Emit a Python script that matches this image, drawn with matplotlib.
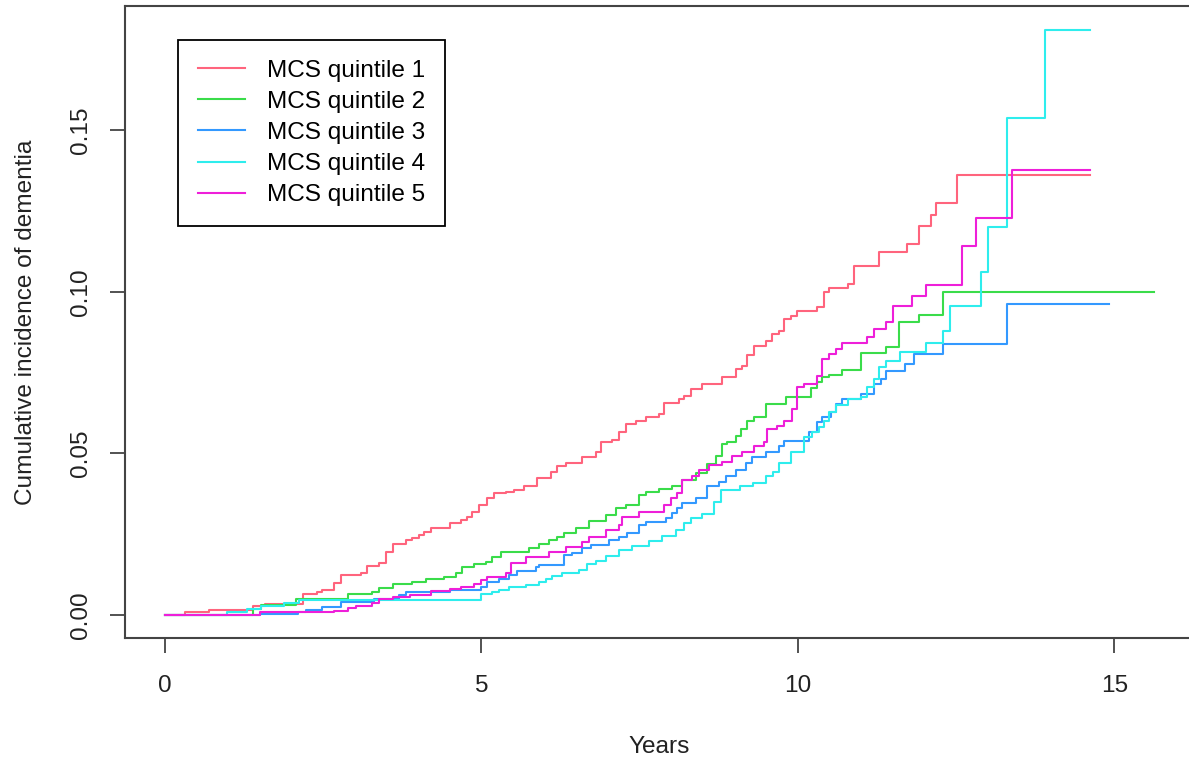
import numpy as np
import matplotlib.pyplot as plt

plt.rcParams['font.family'] = ['Liberation Sans', 'DejaVu Sans']

# step times (years) and cumulative incidence after each step
q1_t = [0.32, 0.71, 1.40, 1.59, 2.18, 2.40, 2.49, 2.68, 2.79, 3.11, 3.20, 3.39, 3.50, 3.60,
        3.82, 3.91, 4.02, 4.10, 4.21, 4.50, 4.68, 4.78, 4.86, 4.97, 5.09, 5.21, 5.39, 5.52,
        5.68, 5.88, 6.10, 6.20, 6.34, 6.59, 6.81, 6.89, 7.07, 7.18, 7.29, 7.44, 7.60, 7.81,
        7.89, 8.12, 8.20, 8.31, 8.49, 8.80, 9.02, 9.12, 9.20, 9.31, 9.50, 9.59, 9.70, 9.78,
        9.89, 9.98, 10.30, 10.41, 10.49, 10.80, 10.88, 11.28, 11.72, 11.91, 12.11, 12.19, 12.51]
q1_y = [0.0009, 0.0016, 0.0028, 0.0034, 0.0065, 0.0071, 0.0078, 0.0099, 0.0124, 0.0130, 0.0152,
        0.0161, 0.0196, 0.0220, 0.0233, 0.0239, 0.0248, 0.0258, 0.0270, 0.0286, 0.0295, 0.0304,
        0.0320, 0.0342, 0.0363, 0.0379, 0.0382, 0.0388, 0.0398, 0.0425, 0.0444, 0.0460, 0.0472,
        0.0488, 0.0506, 0.0534, 0.0543, 0.0568, 0.0590, 0.0599, 0.0612, 0.0621, 0.0655, 0.0668,
        0.0677, 0.0699, 0.0714, 0.0736, 0.0761, 0.0770, 0.0804, 0.0832, 0.0848, 0.0870, 0.0879,
        0.0916, 0.0925, 0.0941, 0.0953, 0.1000, 0.1012, 0.1025, 0.1081, 0.1124, 0.1149, 0.1205,
        0.1239, 0.1276, 0.1363]
q1_end = 14.62

q2_t = [1.40, 1.53, 2.08, 2.89, 3.28, 3.39, 3.60, 3.91, 4.13, 4.42, 4.61, 4.70, 4.89, 5.08,
        5.17, 5.32, 5.76, 5.91, 6.07, 6.20, 6.31, 6.50, 6.70, 6.97, 7.13, 7.29, 7.49, 7.60,
        7.81, 8.01, 8.17, 8.39, 8.56, 8.71, 8.80, 8.88, 9.02, 9.10, 9.20, 9.31, 9.50, 9.81,
        10.21, 10.30, 10.38, 10.49, 10.69, 10.99, 11.39, 11.59, 11.91, 12.29]
q2_y = [0.0019, 0.0031, 0.0050, 0.0065, 0.0071, 0.0084, 0.0096, 0.0102, 0.0112, 0.0118, 0.0130,
        0.0149, 0.0158, 0.0165, 0.0180, 0.0196, 0.0208, 0.0220, 0.0233, 0.0242, 0.0255, 0.0270,
        0.0292, 0.0311, 0.0332, 0.0342, 0.0373, 0.0382, 0.0391, 0.0398, 0.0419, 0.0441, 0.0466,
        0.0491, 0.0528, 0.0537, 0.0553, 0.0575, 0.0599, 0.0612, 0.0652, 0.0674, 0.0702, 0.0720,
        0.0736, 0.0742, 0.0758, 0.0811, 0.0829, 0.0907, 0.0929, 0.1000]
q2_end = 15.62

q3_t = [1.50, 2.10, 2.24, 2.49, 2.79, 3.31, 3.71, 3.82, 4.50, 5.00, 5.09, 5.28, 5.44, 5.57,
        5.87, 5.91, 6.31, 6.44, 6.59, 6.73, 7.02, 7.18, 7.30, 7.49, 7.60, 7.92, 8.01, 8.09,
        8.17, 8.39, 8.56, 8.75, 8.86, 9.02, 9.18, 9.27, 9.50, 9.70, 9.78, 10.17, 10.30, 10.38,
        10.52, 10.60, 10.69, 10.99, 11.20, 11.31, 11.39, 11.70, 11.83, 12.30, 13.30]
q3_y = [0.0003, 0.0009, 0.0016, 0.0025, 0.0040, 0.0050, 0.0062, 0.0071, 0.0078, 0.0087, 0.0102,
        0.0112, 0.0124, 0.0137, 0.0149, 0.0155, 0.0186, 0.0193, 0.0208, 0.0217, 0.0233, 0.0242,
        0.0255, 0.0280, 0.0289, 0.0301, 0.0317, 0.0332, 0.0348, 0.0363, 0.0398, 0.0413, 0.0429,
        0.0450, 0.0472, 0.0488, 0.0506, 0.0522, 0.0540, 0.0565, 0.0596, 0.0612, 0.0627, 0.0652,
        0.0668, 0.0683, 0.0714, 0.0730, 0.0755, 0.0776, 0.0807, 0.0839, 0.0963]
q3_end = 14.91

q4_t = [0.99, 1.31, 1.53, 1.89, 2.13, 5.00, 5.17, 5.28, 5.44, 5.71, 5.91, 6.03, 6.12, 6.28,
        6.55, 6.67, 6.81, 6.97, 7.18, 7.38, 7.65, 7.85, 8.08, 8.20, 8.31, 8.49, 8.68, 8.79,
        9.09, 9.29, 9.50, 9.61, 9.70, 9.89, 10.09, 10.22, 10.33, 10.41, 10.49, 10.60, 10.80,
        10.99, 11.09, 11.20, 11.28, 11.39, 11.62, 12.02, 12.29, 12.41, 12.90, 13.00, 13.30, 13.90]
q4_y = [0.0009, 0.0019, 0.0028, 0.0037, 0.0047, 0.0065, 0.0071, 0.0078, 0.0087, 0.0093, 0.0102,
        0.0112, 0.0121, 0.0130, 0.0140, 0.0158, 0.0168, 0.0183, 0.0202, 0.0214, 0.0230, 0.0245,
        0.0264, 0.0286, 0.0301, 0.0314, 0.0351, 0.0388, 0.0398, 0.0410, 0.0429, 0.0444, 0.0469,
        0.0506, 0.0550, 0.0565, 0.0581, 0.0599, 0.0627, 0.0649, 0.0668, 0.0674, 0.0705, 0.0730,
        0.0767, 0.0786, 0.0814, 0.0842, 0.0879, 0.0957, 0.1062, 0.1202, 0.1537, 0.1811]
q4_end = 14.62

q5_t = [1.50, 2.68, 2.89, 3.03, 3.28, 3.39, 3.60, 3.88, 4.21, 4.50, 4.68, 4.89, 5.00, 5.09,
        5.39, 5.47, 5.71, 6.07, 6.34, 6.59, 6.70, 6.97, 7.18, 7.22, 7.49, 7.89, 8.00, 8.09,
        8.17, 8.33, 8.44, 8.60, 8.80, 8.96, 9.12, 9.31, 9.46, 9.51, 9.67, 9.78, 9.91, 9.98,
        10.09, 10.30, 10.38, 10.49, 10.60, 10.69, 11.09, 11.20, 11.39, 11.51, 11.80, 12.02,
        12.59, 12.81, 13.38]
q5_y = [0.0009, 0.0012, 0.0022, 0.0028, 0.0037, 0.0050, 0.0056, 0.0062, 0.0075, 0.0081, 0.0087,
        0.0096, 0.0109, 0.0118, 0.0130, 0.0161, 0.0180, 0.0196, 0.0211, 0.0227, 0.0242, 0.0264,
        0.0280, 0.0304, 0.0320, 0.0342, 0.0363, 0.0379, 0.0419, 0.0429, 0.0450, 0.0463, 0.0475,
        0.0491, 0.0506, 0.0522, 0.0534, 0.0575, 0.0584, 0.0599, 0.0637, 0.0705, 0.0714, 0.0739,
        0.0792, 0.0807, 0.0823, 0.0842, 0.0860, 0.0885, 0.0907, 0.0957, 0.0988, 0.1022, 0.1143,
        0.1230, 0.1376]
q5_end = 14.62

labels = ['MCS quintile 1', 'MCS quintile 2', 'MCS quintile 3', 'MCS quintile 4', 'MCS quintile 5']
colors = ['#FF647D', '#3ADC4A', '#3399FF', '#2EEDED', '#EE1FD9']

fig = plt.figure(figsize=(11.89, 7.6), dpi=100)
ax = fig.add_axes([0.1051, 0.1599, 0.8985, 0.8317])

series = [(q1_t, q1_y, q1_end), (q2_t, q2_y, q2_end), (q3_t, q3_y, q3_end),
          (q4_t, q4_y, q4_end), (q5_t, q5_y, q5_end)]
for (t, y, tend), lab, c in zip(series, labels, colors):
    tt = [0] + t + [tend]
    yy = [0] + y + [y[-1]]
    ax.step(tt, yy, where='post', color=c, lw=1.5, label=lab)

# R-style 4% padding
xmax = 15.62
ymax = 0.1811
ax.set_xlim(-0.04 * xmax, xmax * 1.04)
ax.set_ylim(-0.04 * ymax, ymax * 1.04)

ax.set_xticks([0, 5, 10, 15])
ax.set_yticks([0, 0.05, 0.10, 0.15])
ax.set_yticklabels(['0.00', '0.05', '0.10', '0.15'], rotation=90, va='center')

fs = 17.6
edge = '#444444'
for s in ax.spines.values():
    s.set_color(edge)
    s.set_linewidth(1.5)
ax.tick_params(direction='out', length=10.5, width=1.3, color=edge,
               labelsize=fs, labelcolor='#222222')
ax.tick_params(axis='x', pad=16)
ax.tick_params(axis='y', pad=13)

ax.set_xlabel('Years', fontsize=fs, color='#222222', labelpad=28)
ax.set_ylabel('Cumulative incidence of dementia', fontsize=fs, color='#222222', labelpad=24)

leg = ax.legend(loc='upper left', bbox_to_anchor=(0.0496, 0.9468), borderaxespad=0,
                fontsize=fs, fancybox=False, framealpha=1, edgecolor='black',
                handlelength=1.95, handletextpad=0.9, labelspacing=0.37, borderpad=0.8)
leg.get_frame().set_linewidth(1.3)
for line in leg.get_lines():
    line.set_linewidth(1.5)

fig.savefig('out.png', dpi=100)
